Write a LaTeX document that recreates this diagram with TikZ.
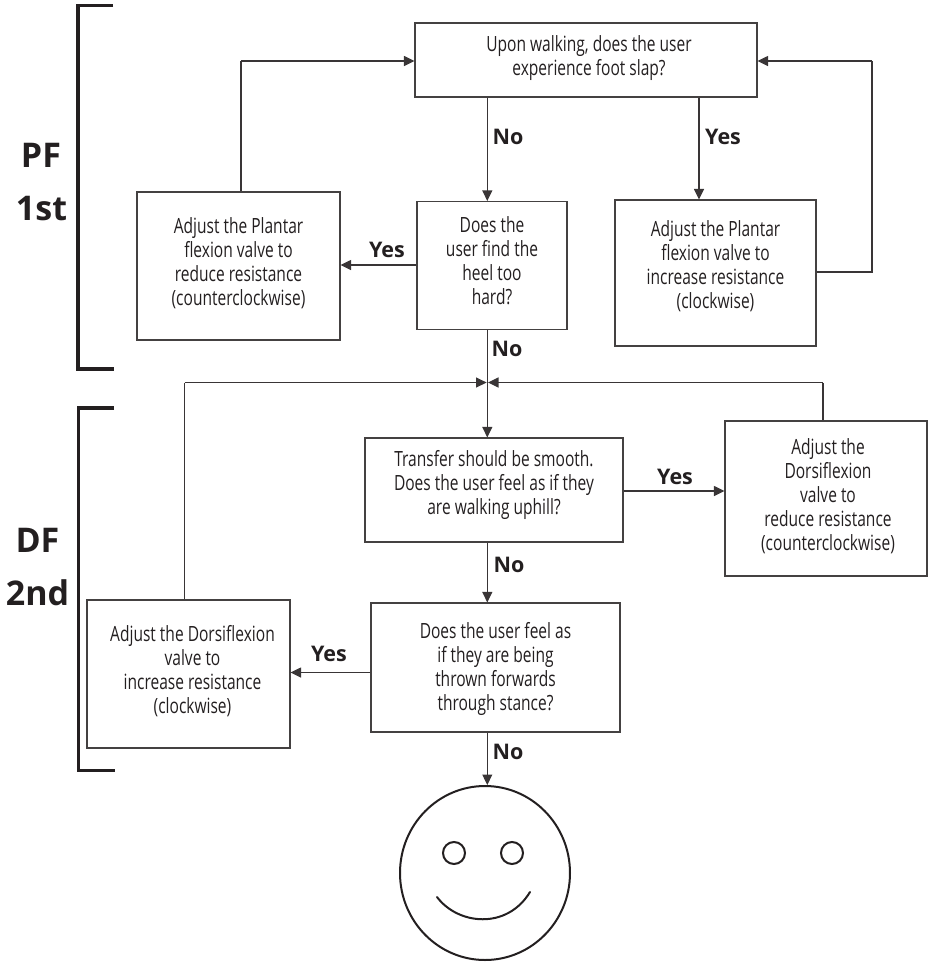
\documentclass[tikz,border=0pt]{standalone}
\usepackage{fontspec}
\setmainfont[FakeStretch=0.74]{Open Sans}
\newfontfamily\labfont{Open Sans}
\usetikzlibrary{arrows.meta,calc,shapes.geometric}
\definecolor{ink}{HTML}{231F20}
\newcommand\padbot[1]{\rule[-#1pt]{0pt}{#1pt}}
\newcommand\padtop[1]{\rule{0pt}{#1pt}}
\tikzset{
  box/.style={draw=ink!85,line width=1.1pt,rectangle,inner sep=0pt,align=center,text=ink,font=\fontsize{21}{24}\selectfont},
  conn/.style={draw=ink!90,line width=1.1pt},
  arr/.style={conn,-{Triangle[length=10.5pt,width=10pt]}},
  yn/.style={text=ink,font=\labfont\bfseries\fontsize{21.5}{24}\selectfont,inner sep=0pt},
  big/.style={text=ink,font=\labfont\bfseries\fontsize{34}{36}\selectfont,inner sep=0pt},
  brk/.style={draw=ink,line width=3.8pt,line cap=butt,line join=miter},
  face/.style={draw=ink,line width=2pt}
}
\begin{document}
\begin{tikzpicture}[x=1pt,y=-1pt]
\useasboundingbox (0,0) rectangle (929,962);
% boxes
\node[box,minimum width=342pt,minimum height=74pt] (q1) at (586,60) {\hspace*{6pt}Upon walking, does the user\\\hspace*{6pt}experience foot slap?\padbot{9}};
\node[box,minimum width=150pt,minimum height=128pt] (q2) at (492,265.5) {Does the\\user find the\\heel too\\hard?\padbot{10}};
\node[box,minimum width=203pt,minimum height=148pt] (a1) at (238.5,266) {Adjust the Plantar\\flexion valve to\\reduce resistance\\(counterclockwise)\padbot{9}};
\node[box,minimum width=201pt,minimum height=146pt] (a2) at (715.5,273) {Adjust the Plantar\\flexion valve to\\increase resistance\\(clockwise)\padbot{16}};
\node[box,minimum width=258pt,minimum height=104pt] (q3) at (494,490) {Transfer should be smooth.\\Does the user feel as if they\\are walking uphill?\padbot{16}};
\node[box,minimum width=202pt,minimum height=155pt] (a3) at (826,498.5) {\hspace*{4pt}Adjust the\\\hspace*{4pt}Dorsiflexion\\\hspace*{4pt}valve to\\\hspace*{4pt}reduce resistance\\\hspace*{4pt}(counterclockwise)\padbot{7}};
\node[box,minimum width=249pt,minimum height=129pt] (q4) at (495.5,667.5) {\padtop{19}Does the user feel as\\if they are being\\thrown forwards\\through stance?};
\node[box,minimum width=203pt,minimum height=148pt] (a4) at (188.5,674) {\hspace*{8pt}Adjust the Dorsiflexion\\\hspace*{8pt}valve to\\\hspace*{8pt}increase resistance\\\hspace*{8pt}(clockwise)\padbot{10}};
\node[ellipse,face,minimum width=170pt,minimum height=174pt,inner sep=0pt] (smile) at (485,873) {};
\node[circle,face,minimum size=22pt,inner sep=0pt] (eyeL) at (454,853) {};
\node[circle,face,minimum size=22pt,inner sep=0pt] (eyeR) at (512,853) {};
\coordinate (smileL) at (437,897);
\coordinate (smileR) at (530,892);
\draw[face,line cap=round] (smileL) .. controls (458,925) and (507,930) .. (smileR);
% helper coordinates
\coordinate (noX) at (487.3,382.5);
\coordinate (yesX) at (699,97);
\coordinate (backL) at (241,61);
\coordinate (backR) at (872,61);
\coordinate (outR) at (872,272);
\coordinate (upL) at (184.5,382.5);
\coordinate (upR) at (823,382.5);
\coordinate (tipL) at (486.6,382.5);
\coordinate (tipR) at (488,382.5);
% connectors
\draw[arr] (noX |- q1.south) -- (noX |- q2.north);
\draw[arr] (yesX |- q1.south) -- (yesX |- a2.north);
\draw[conn] (a2.east |- outR) -- (outR) -- (backR);
\draw[arr] (backR) -- (q1.east |- backR);
\draw[conn] (backL |- a1.north) -- (backL);
\draw[arr] (backL) -- (q1.west |- backL);
\draw[arr] (q2.west |- 0,265) -- (a1.east |- 0,265);
\draw[arr] (noX |- q2.south) -- (noX |- q3.north);
\draw[conn] (upL |- a4.north) -- (upL);
\draw[arr] (upL) -- (tipL);
\draw[conn] (upR |- a3.north) -- (upR);
\draw[arr] (upR) -- (tipR);
\draw[arr] (q3.east |- 0,491) -- (a3.west |- 0,491);
\draw[arr] (noX |- q3.south) -- (noX |- q4.north);
\draw[arr] (q4.west |- 0,672.5) -- (a4.east |- 0,672.5);
\draw[arr] (noX |- q4.south) -- (noX |- smile.north);
% labels
\node[yn] (l1) at (508,137) {No};
\node[yn] (l2) at (723,137) {Yes};
\node[yn] (l3) at (387,250) {Yes};
\node[yn] (l4) at (507,349) {No};
\node[yn] (l5) at (675,477) {Yes};
\node[yn] (l6) at (509,565) {No};
\node[yn] (l7) at (329,654) {Yes};
\node[yn] (l8) at (508,752) {No};
\node[big] (pf) at (41,155) {PF};
\node[big] (st) at (41.5,209) {1st};
\node[big] (df) at (37.5,540) {DF};
\node[big] (nd) at (37.5,592.5) {2nd};
% brackets
\coordinate (b1a) at (113,5.5);
\coordinate (b1b) at (78,5.5);
\coordinate (b1c) at (78,369);
\coordinate (b1d) at (114,369);
\coordinate (b2a) at (114,408);
\coordinate (b2b) at (78.5,408);
\coordinate (b2c) at (78.5,770.5);
\coordinate (b2d) at (115,770.5);
\draw[brk] (b1a) -- (b1b) -- (b1c) -- (b1d);
\draw[brk] (b2a) -- (b2b) -- (b2c) -- (b2d);
\end{tikzpicture}
\end{document}
